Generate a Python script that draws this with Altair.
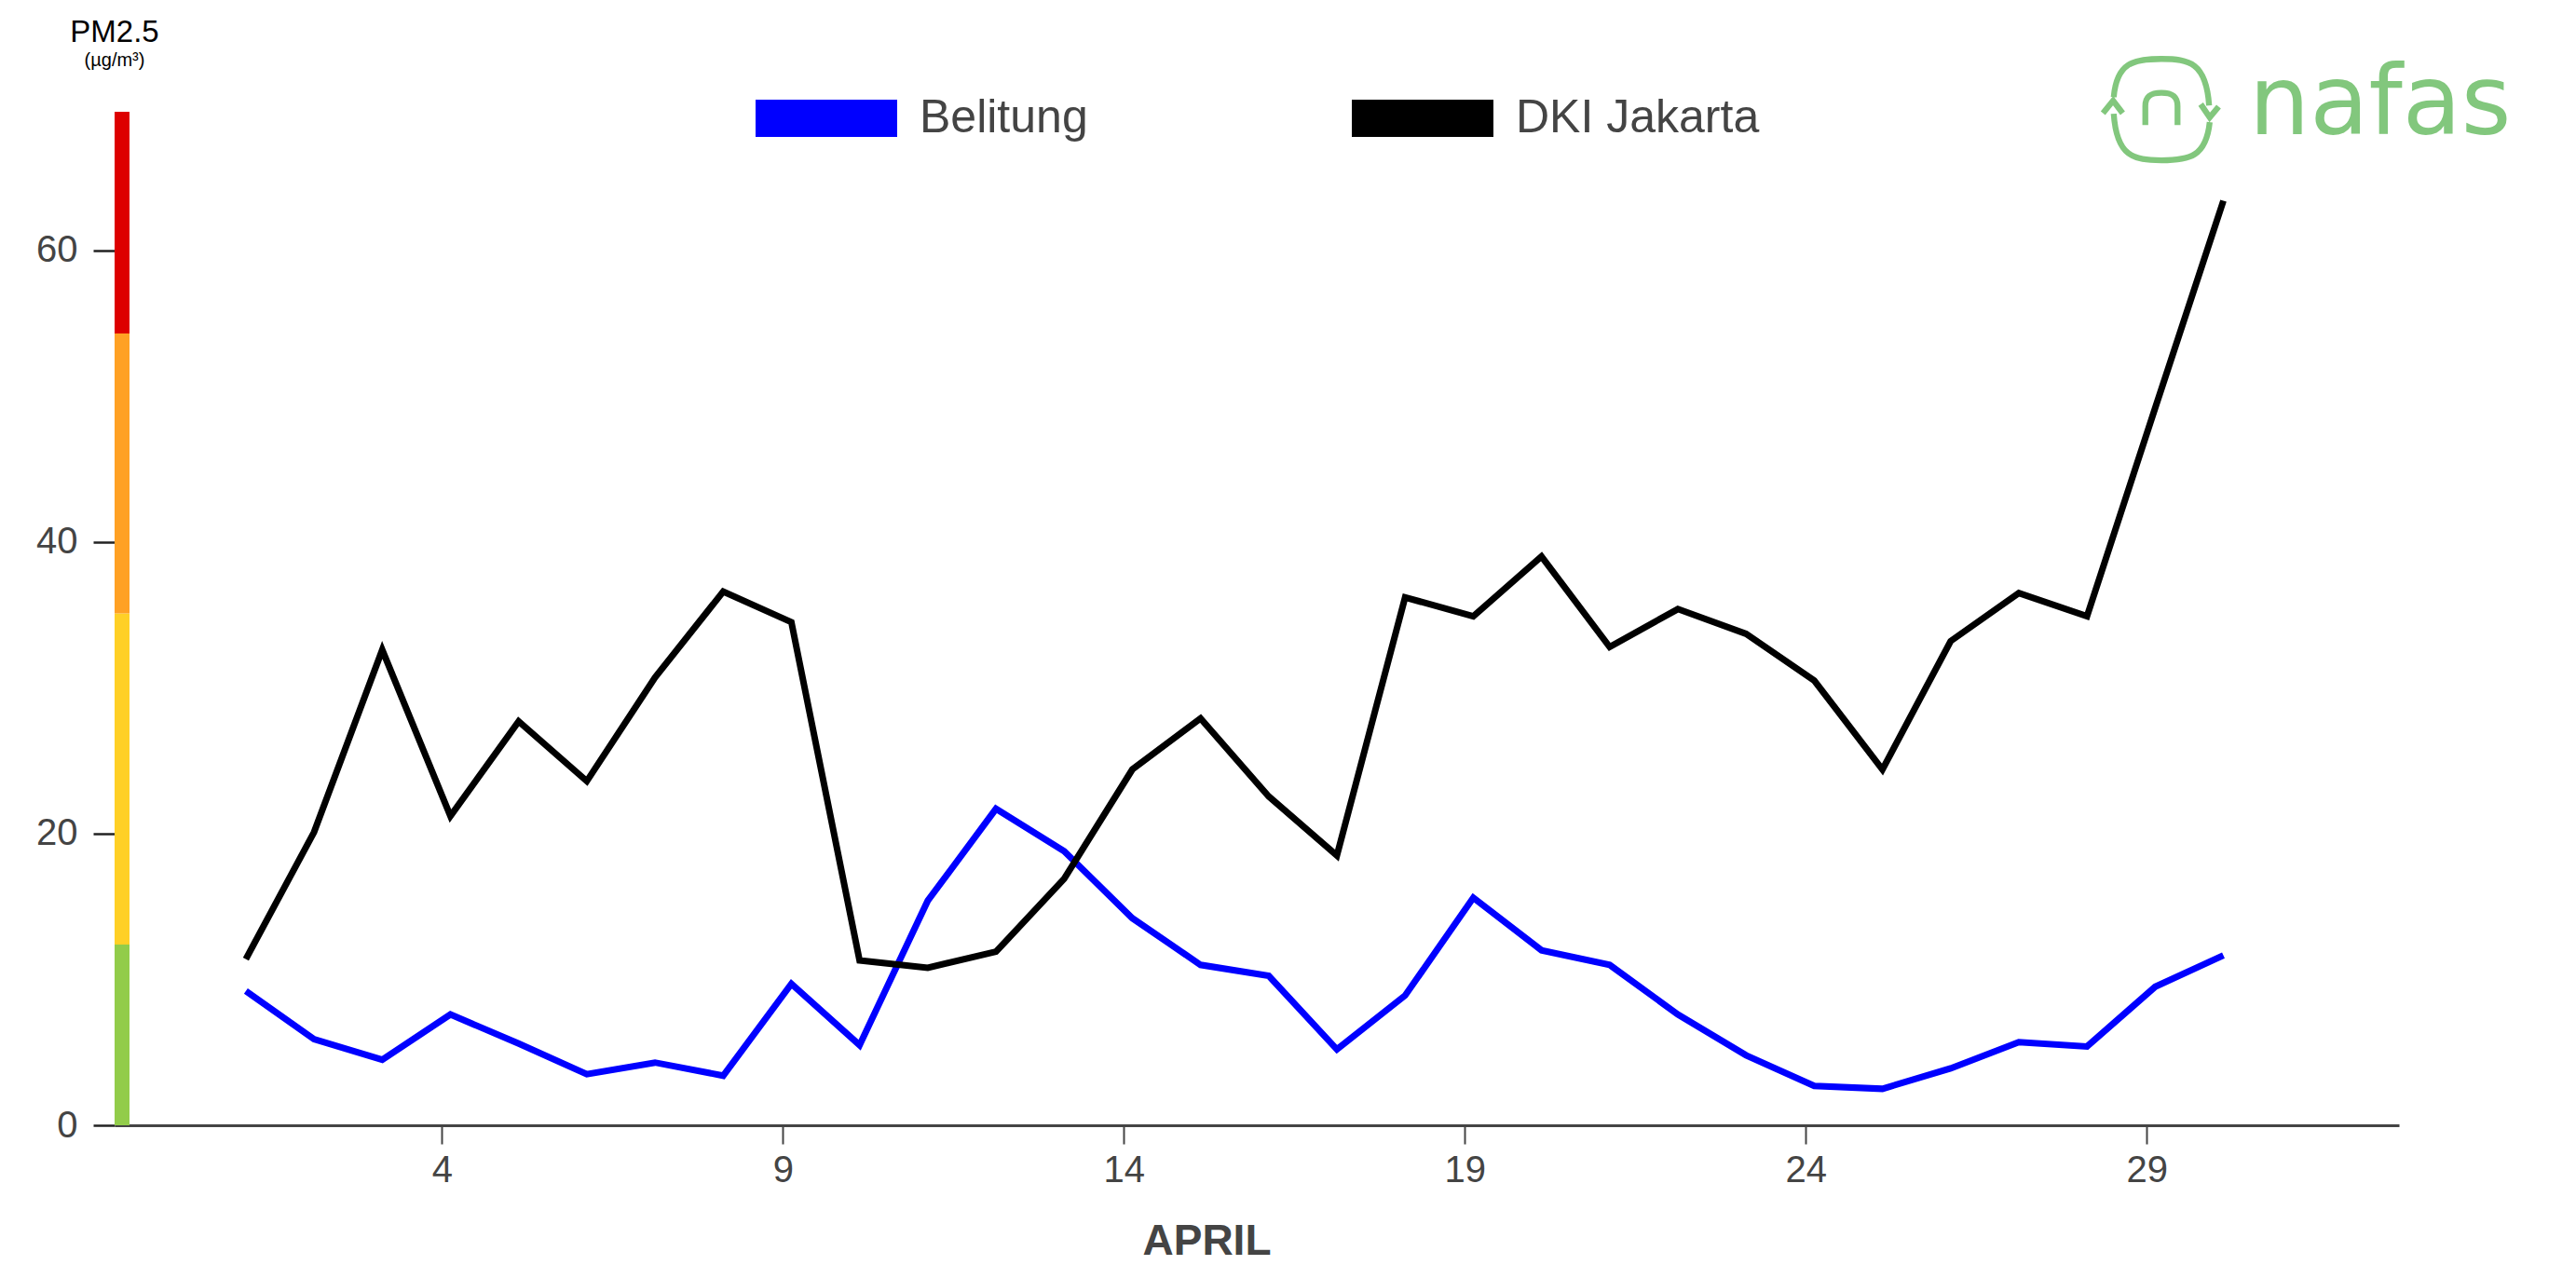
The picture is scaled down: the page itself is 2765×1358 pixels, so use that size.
import altair as alt
import pandas as pd

# ---- data ----
days = list(range(1, 31))
hour_offset = 3  # readings are stamped a few hours after midnight
belitung = [9.2, 5.9, 4.5, 7.6, 5.6, 3.5, 4.3, 3.4, 9.7, 5.5,
            15.4, 21.7, 18.8, 14.2, 11.0, 10.25, 5.2, 8.9, 15.6, 12.0,
            11.0, 7.6, 4.8, 2.7, 2.5, 3.9, 5.7, 5.4, 9.5, 11.65]
jakarta = [11.4, 20.1, 32.6, 21.2, 27.7, 23.6, 30.7, 36.6, 34.5, 11.3,
           10.8, 11.9, 16.9, 24.4, 27.9, 22.55, 18.5, 36.2, 34.9, 39.0,
           32.8, 35.4, 33.7, 30.5, 24.4, 33.2, 36.5, 34.9, 49.2, 63.4]
cities = ["Belitung", "DKI Jakarta"]
city_colors = ["#0000ff", "#000000"]
x_ticks = [4, 9, 14, 19, 24, 29]
y_ticks = [0, 20, 40, 60]
band_lo = [0, 12.4, 35.1, 54.3]
band_hi = [12.4, 35.1, 54.3, 69.5]
band_colors = ["#92cc4a", "#ffd026", "#ffa124", "#dd0000"]

rows = []
for d, b, j in zip(days, belitung, jakarta):
    rows.append({"x": d + hour_offset / 24, "city": cities[0], "pm": b})
    rows.append({"x": d + hour_offset / 24, "city": cities[1], "pm": j})
df = pd.DataFrame(rows)
band_df = pd.DataFrame({"lo": band_lo, "hi": band_hi, "col": band_colors})

FONT = "Liberation Sans"
GREY = "#444444"
GREEN = "#82c77d"

x_scale = alt.Scale(domain=[-0.8, 32.7], nice=False, zero=False)
y_scale = alt.Scale(domain=[0, 69.5], nice=False)
y_axis = alt.Axis(values=y_ticks, title=None, grid=False, domain=False,
                  tickSize=23, tickWidth=2.5, tickColor="#222222",
                  labelFontSize=40, labelColor=GREY, labelFont=FONT,
                  labelPadding=17)
x_axis = alt.Axis(values=x_ticks, title="APRIL", grid=False,
                  domainColor=GREY, domainWidth=3,
                  tickSize=20, tickWidth=2, tickColor=GREY,
                  labelFontSize=40, labelColor=GREY, labelFont=FONT,
                  labelPadding=8, labelFlush=False,
                  titleFontSize=46, titleFontWeight="bold", titleColor=GREY,
                  titleFont=FONT, titleX=1172, titleY=138,
                  titleAlign="center", titleBaseline="alphabetic")

bands = alt.Chart(band_df).mark_rect().encode(
    x=alt.value(0), x2=alt.value(16),
    y=alt.Y("lo:Q", scale=y_scale, axis=y_axis),
    y2="hi:Q",
    fill=alt.Fill("col:N", scale=None),
)

lines = alt.Chart(df).mark_line(strokeWidth=7, strokeJoin="miter").encode(
    x=alt.X("x:Q", scale=x_scale, axis=x_axis),
    y=alt.Y("pm:Q", scale=y_scale, axis=y_axis),
    color=alt.Color("city:N", scale=alt.Scale(domain=cities, range=city_colors),
                    legend=alt.Legend(orient="none", legendX=668, legendY=-89,
                                      direction="horizontal", title=None,
                                      symbolType="stroke", symbolSize=23104,
                                      symbolStrokeWidth=40, padding=0,
                                      labelFontSize=50, labelColor=GREY,
                                      labelFont=FONT, labelOffset=4,
                                      labelLimit=1000, columnPadding=203)),
)

one = alt.Data(values=[{"a": 1}])
pm_text = alt.Chart(one).mark_text(text="PM2.5", fontSize=33, font=FONT,
                                   color="#000000", align="center",
                                   baseline="alphabetic").encode(
    x=alt.value(0), y=alt.value(-75))
unit_text = alt.Chart(one).mark_text(text="(µg/m³)", fontSize=20, font=FONT,
                                     color="#000000", align="center",
                                     baseline="alphabetic").encode(
    x=alt.value(0), y=alt.value(-49))

icon_path = ("M-0.8,-0.2C-0.75,-0.78,-0.47,-0.84,0,-0.84C0.47,-0.84,0.75,-0.78,0.8,-0.06"
             "M0.66,-0.08L0.81,0.14L0.96,-0.04"
             "M0.81,0.22C0.75,0.8,0.47,0.86,0,0.86C-0.47,0.86,-0.75,0.8,-0.8,0.08"
             "M-0.98,0.07L-0.81,-0.14L-0.65,0.07"
             "M-0.27,0.27L-0.27,-0.05C-0.27,-0.22,-0.17,-0.27,0,-0.27"
             "C0.17,-0.27,0.27,-0.22,0.27,-0.05L0.27,0.27")
logo_icon = alt.Chart(one).mark_point(shape=icon_path, size=16384, filled=False,
                                      stroke=GREEN, strokeWidth=6.3, opacity=1,
                                      strokeCap="butt").encode(
    x=alt.value(2197), y=alt.value(-3))
logo_text = alt.Chart(one).mark_text(text="nafas", fontSize=103, font="DejaVu Sans",
                                     color=GREEN, align="left",
                                     baseline="alphabetic").encode(
    x=alt.value(2291), y=alt.value(24))

chart = alt.layer(bands, lines, pm_text, unit_text, logo_icon, logo_text).properties(
    width=2452, height=1088,
    autosize=alt.AutoSizeParams(type="none"),
    padding={"left": 115, "top": 112, "right": 150, "bottom": 150},
).configure_view(stroke=None)

chart.save("out.html", embed_options={"renderer": "svg", "actions": False})
